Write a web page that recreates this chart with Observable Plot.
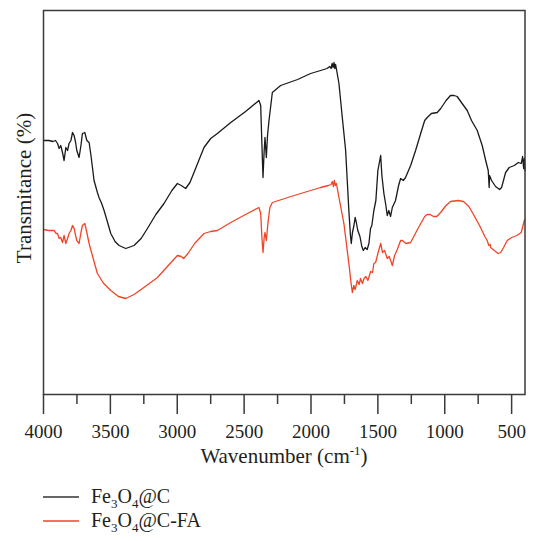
<!DOCTYPE html>
<html><head><meta charset="utf-8">
<script src="https://cdn.jsdelivr.net/npm/d3@7"></script>
<script src="https://cdn.jsdelivr.net/npm/@observablehq/plot@0.6"></script>
<style>
body{margin:0;background:#fff;}
#chart{position:relative;width:536px;height:541px;font-family:"Liberation Serif",serif;}
#chart svg{display:block;}
</style>
</head><body><div id="chart"></div>
<script>
const seriesNames = ["Fe3O4@C", "Fe3O4@C-FA"];
const seriesColors = ["#1a1a1a", "#ef4427"];
const majorTicks = [4000, 3500, 3000, 2500, 2000, 1500, 1000, 500];
const minorTicks = [3750, 3250, 2750, 2250, 1750, 1250, 750];
const xLabel = "Wavenumber (cm";
const yLabel = "Transmitance (%)";

const blackWn = [4000,3960,3930,3910,3895,3883,3871,3858,3846,3833,3820,3809,3795,3783,3771,3760,3751,3734,3720,3709,3691,3676,3659,3645,3634,3622,3597,3585,3565,3547,3525,3497,3465,3435,3385,3323,3270,3223,3160,3099,3040,2999,2970,2937,2905,2875,2800,2750,2700,2600,2489,2389,2376,2368,2359,2350,2344,2334,2325,2314,2289,2227,2100,2003,1928,1880,1860,1850,1842,1835,1828,1822,1816,1808,1791,1766,1741,1717,1705,1699,1690,1679,1670,1661,1650,1634,1620,1609,1595,1580,1567,1555,1545,1530,1515,1500,1479,1470,1455,1440,1430,1418,1405,1392,1368,1345,1330,1310,1293,1255,1218,1180,1150,1131,1100,1056,1030,990,957,930,907,870,832,800,757,720,694,675,668,665,650,620,590,575,545,518,480,450,428,418,410,405,400];
const blackT = [63.5,63.5,63.25,63.5,62.75,61.5,62.25,60.5,58.5,61.75,61,62.75,63.5,65.5,64.75,63,61,59.25,62.25,65.25,65.5,63.5,63,59.75,56.75,53.5,50.5,49.25,47.75,46,43.5,40.25,38.25,37.25,36.5,37.25,39,41.5,45,47.75,51,52.75,52.25,51.5,53,55.5,61.75,64,65.25,68,70.75,73.5,72.25,63.5,54.25,61,64.25,59.25,64.75,68.5,75.5,77.25,78.75,80.25,81,81.5,82,81.5,82.75,81.75,83,81.5,82.5,81,77.75,69.25,61,46,39.75,37.75,40.5,42.25,44.25,43,41,39.5,37,36,36.75,36.25,37.75,41.5,42.25,46,48.5,56,59.75,54.75,50.25,47.25,44.75,46,44.5,46.75,48.5,52.25,54,53.5,54.25,57.25,61,65.25,68.5,69.25,70.25,70.5,71.5,73.5,74.75,74.75,74.5,72.75,71,68.5,66,62.25,58.5,56,51.75,54.75,53.5,52,51.25,51.75,55.5,56.75,57.25,58,57.75,59.5,56.5,59,56];

const redWn = [4000,3960,3921,3905,3895,3883,3871,3858,3846,3833,3820,3809,3795,3783,3771,3760,3751,3734,3720,3709,3691,3676,3659,3645,3620,3597,3550,3497,3440,3385,3323,3250,3148,3060,2999,2970,2952,2920,2870,2800,2750,2700,2600,2489,2389,2376,2368,2359,2350,2344,2334,2320,2307,2289,2150,2003,1928,1870,1850,1840,1832,1825,1818,1810,1791,1754,1717,1700,1691,1680,1670,1654,1640,1630,1615,1604,1590,1575,1554,1540,1530,1517,1500,1479,1465,1450,1430,1415,1392,1375,1355,1330,1317,1290,1255,1200,1150,1131,1110,1084,1060,1031,990,957,900,860,820,785,740,700,683,670,660,657,630,600,582,560,533,500,460,428,415,405,400];
const redT = [41.25,41,41,40.25,40.25,39,39.25,38,39.75,37.75,39,40.25,41,42.25,41.5,39.75,38.5,37.75,40.5,42.25,42.75,40.5,37.75,36,33,30.25,27.75,26,24.5,24,25,26.75,29.25,32.5,34.75,34.5,34,35.25,37.75,40.25,40.75,41,43,45,46.75,45.25,39.75,35.5,39.25,40.5,38.5,43.5,46.75,48,49.5,51,51.75,52.25,52.5,53.25,52,53.5,52.25,52.75,49.25,42.75,32.75,27.75,25.5,27.25,26.25,28.5,27.5,29,27.75,29,29.5,28.5,30.75,30.5,32.75,33,35.25,37.75,35.5,36,34,34.5,32.25,34.75,36.25,38.5,38.5,37.75,38,41.5,44.5,45,45,44.5,44.5,45.5,47.25,48.25,48.5,48.25,47,45,42.25,39.5,38.5,37.25,37.5,36.75,36,35.25,35.5,36.75,38.5,39.25,39.75,40.5,42.25,43.5,43.75];

const blackData = blackWn.map((w, i) => ({wn: w, t: blackT[i]}));
const redData = redWn.map((w, i) => ({wn: w, t: redT[i]}));

const axisColor = "#3a3a3a";
const textColor = "#231f20";

const plot = Plot.plot({
  width: 536, height: 470,
  marginLeft: 43, marginRight: 11.5, marginTop: 10, marginBottom: 76,
  x: {domain: [4000, 400]},
  y: {domain: [0, 96], axis: null},
  style: {fontFamily: '"Liberation Serif", serif', fontSize: "19px", color: textColor, background: "#fff", overflow: "visible"},
  marks: [
    Plot.line(blackData, {x: "wn", y: "t", stroke: seriesColors[0], strokeWidth: 1.3}),
    Plot.line(redData, {x: "wn", y: "t", stroke: seriesColors[1], strokeWidth: 1.3}),
    Plot.frame({stroke: axisColor, strokeWidth: 1.5}),
    Plot.axisX({ticks: majorTicks, tickSize: 20, tickPadding: 10, tickFormat: d => String(d), label: null, stroke: axisColor, strokeWidth: 1.5, fill: textColor, fontSize: 19}),
    Plot.axisX({ticks: minorTicks, tickSize: 10, tickFormat: () => "", label: null, stroke: axisColor, strokeWidth: 1.5})
  ]
});

const svg = d3.select(plot);
const xt = svg.append("text")
  .attr("x", 284).attr("y", 463)
  .attr("text-anchor", "middle")
  .attr("fill", textColor)
  .style("font-family", '"Liberation Serif", serif')
  .style("font-size", "21px");
xt.append("tspan").text(xLabel);
xt.append("tspan").attr("dy", -8).style("font-size", "13px").text("-1");
xt.append("tspan").attr("dy", 8).text(")");

svg.append("text")
  .attr("transform", "translate(31,188) rotate(-90)")
  .attr("text-anchor", "middle")
  .attr("fill", textColor)
  .style("font-family", '"Liberation Serif", serif')
  .style("font-size", "21px")
  .text(yLabel);

document.getElementById("chart").appendChild(plot);

// legend below the plot
const leg = d3.select("#chart").append("svg")
  .attr("width", 536).attr("height", 71);
const legendRows = [
  {parts: ["Fe", "3", "O", "4", "@C"], color: "#333333", y: 27},
  {parts: ["Fe", "3", "O", "4", "@C-FA"], color: seriesColors[1], y: 51}
];
legendRows.forEach(r => {
  leg.append("line").attr("x1", 43).attr("x2", 79).attr("y1", r.y).attr("y2", r.y)
    .attr("stroke", r.color).attr("stroke-width", 1.5);
  const t = leg.append("text").attr("x", 91).attr("y", r.y + 6)
    .attr("fill", textColor)
    .style("font-family", '"Liberation Serif", serif').style("font-size", "20px");
  t.append("tspan").text(r.parts[0]);
  t.append("tspan").attr("dy", 5).style("font-size", "13px").text(r.parts[1]);
  t.append("tspan").attr("dy", -5).text(r.parts[2]);
  t.append("tspan").attr("dy", 5).style("font-size", "13px").text(r.parts[3]);
  t.append("tspan").attr("dy", -5).text(r.parts[4]);
});
</script>
</body></html>
